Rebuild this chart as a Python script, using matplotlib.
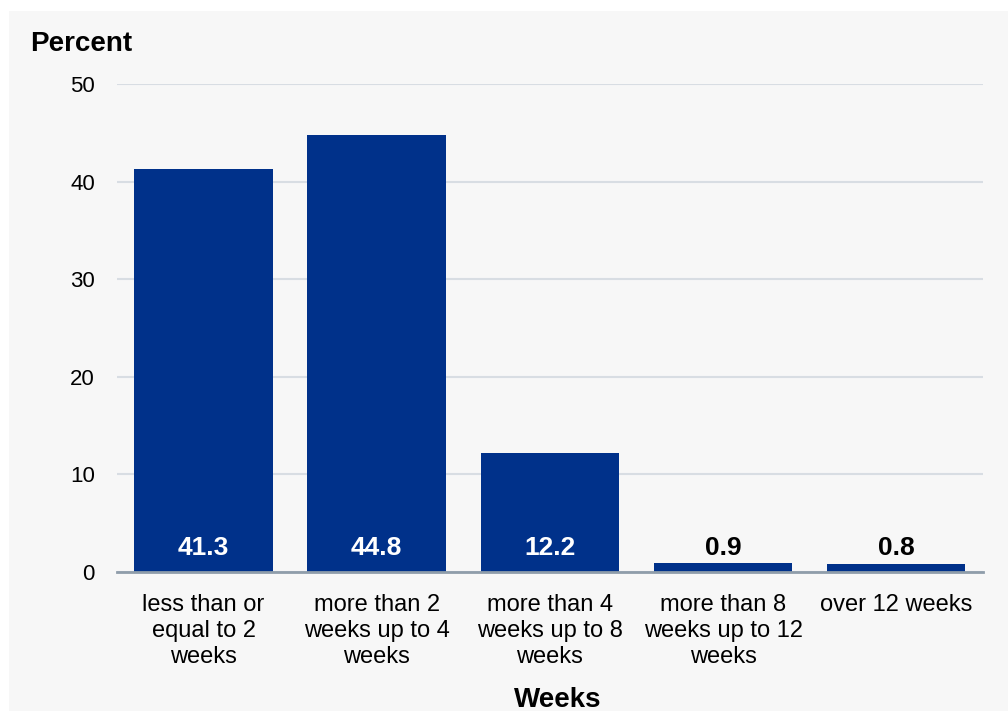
import matplotlib.pyplot as plt
from matplotlib.patches import Rectangle

plt.rcParams['font.family'] = ['Liberation Sans', 'DejaVu Sans']

categories = ['less than or\nequal to 2\nweeks',
              'more than 2\nweeks up to 4\nweeks',
              'more than 4\nweeks up to 8\nweeks',
              'more than 8\nweeks up to 12\nweeks',
              'over 12 weeks']
values = [41.3, 44.8, 12.2, 0.9, 0.8]
yticks = [0, 10, 20, 30, 40, 50]

bar_color = '#00318a'

fig = plt.figure(figsize=(10.08, 7.11), dpi=100)
fig.patch.set_facecolor('white')
fig.patches.append(Rectangle((9 / 1008, 0), 1, 1 - 11 / 711, transform=fig.transFigure,
                             facecolor='#f7f7f7', edgecolor='none', zorder=-10))

ax = fig.add_axes([0.1161, 0.1955, 0.8589, 0.6864])
ax.set_facecolor('none')

x = range(len(categories))
ax.bar(x, values, width=0.8, color=bar_color, zorder=3)

for i, v in enumerate(values):
    col = 'white' if v > 5 else 'black'
    ax.text(i, 2.45, '%.1f' % v, ha='center', va='center', color=col,
            fontsize=19, fontweight='bold', zorder=4)

ax.set_xlim(-0.5, 4.5)
ax.set_ylim(0, 50)
ax.set_yticks(yticks)
ax.set_xticks(list(x))
ax.set_xticklabels(categories, fontsize=17, linespacing=1.24, va='top')
ax.tick_params(axis='y', length=0, pad=16, labelsize=16)
ax.tick_params(axis='x', length=0, pad=16)

ax.grid(axis='y', color='#d8dde3', linewidth=1.5, zorder=1)
ax.set_axisbelow(True)
for s in ['top', 'right', 'left']:
    ax.spines[s].set_visible(False)
ax.spines['bottom'].set_color('#8f9daa')
ax.spines['bottom'].set_linewidth(2)
ax.spines['bottom'].set_zorder(5)

fig.text(30 / 1008, 1 - 44 / 711, 'Percent', fontsize=20, fontweight='bold',
         ha='left', va='center')
fig.text(558 / 1008, 1 - 700 / 711, 'Weeks', fontsize=20, fontweight='bold',
         ha='center', va='center')

fig.savefig('out.png', dpi=100)
